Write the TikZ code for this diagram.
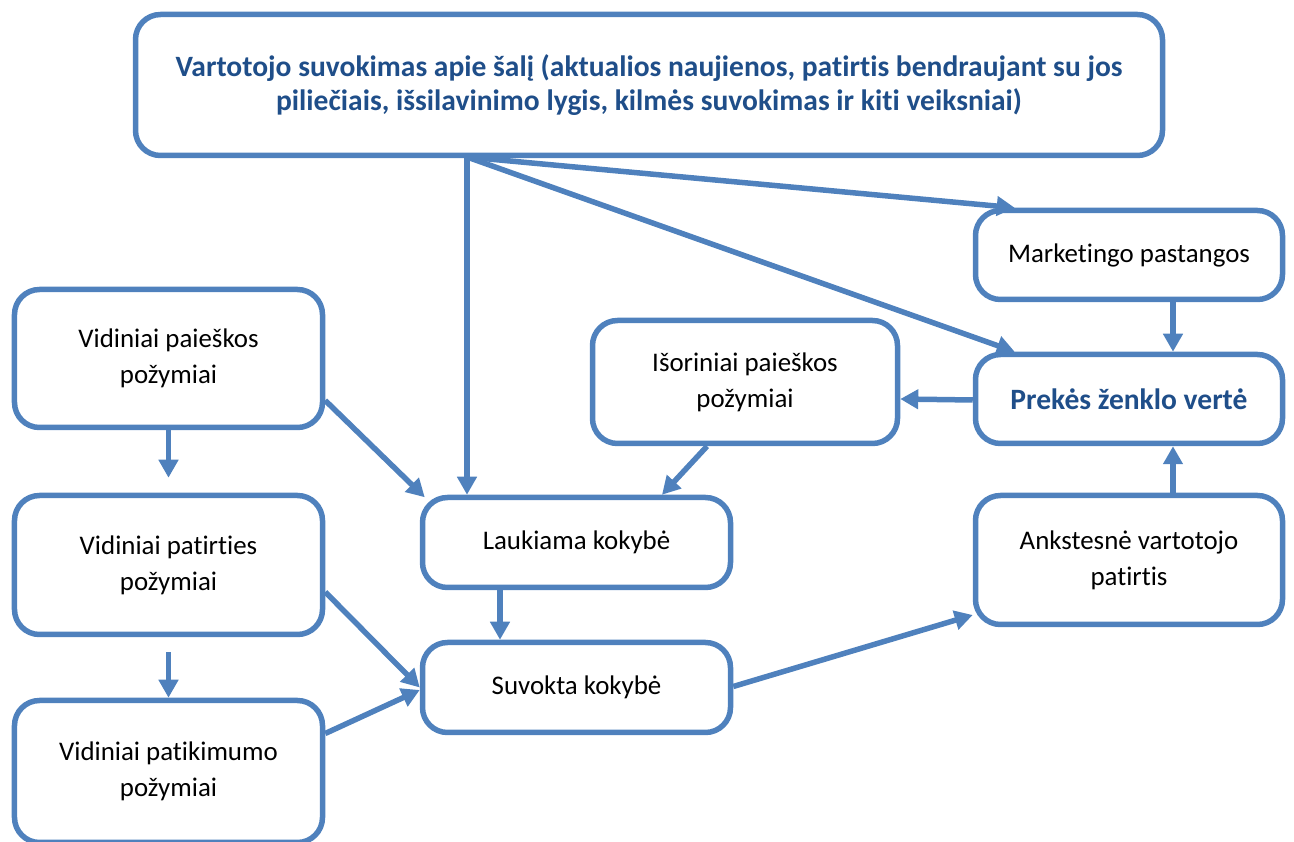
\documentclass[tikz,border=0pt]{standalone}
\usepackage{fontspec}
\setmainfont{Carlito}[Ligatures=CommonOff]
\usetikzlibrary{arrows.meta}
\definecolor{boxblue}{HTML}{4F81BD}
\definecolor{textblue}{HTML}{1F4E89}
\tikzset{
  box/.style={draw=boxblue,line width=0.11cm,rounded corners=0.5cm,align=center,
    font=\fontsize{15.3}{20.5}\selectfont,inner sep=0pt},
  keybox/.style={box,text=textblue,font=\fontsize{16.8}{19.5}\selectfont\bfseries},
  arr/.style={draw=boxblue,line width=0.11cm,-{Triangle[length=0.36cm,width=0.38cm]}}
}
\begin{document}
\begin{tikzpicture}
\useasboundingbox (0,0) rectangle (25.88,-16.84);
% boxes
\node[keybox,minimum width=20.54cm,minimum height=2.82cm] (salis) at (12.98,-1.70)
  {Vartotojo suvokimas apie šalį (aktualios naujienos, patirtis bendraujant su jos\\piliečiais, išsilavinimo lygis, kilmės suvokimas ir kiti veiksniai)};
\node[box,minimum width=6.14cm,minimum height=1.78cm] (mark) at (22.58,-5.10) {Marketingo pastangos};
\node[keybox,minimum width=6.14cm,minimum height=1.78cm] (prek) at (22.58,-7.98) {Prekės ženklo vertė};
\node[box,minimum width=6.10cm,minimum height=2.46cm] (isor) at (14.90,-7.64) {Išoriniai paieškos\\požymiai};
\node[box,minimum width=6.16cm,minimum height=2.76cm] (vpai) at (3.37,-7.17) {Vidiniai paieškos\\požymiai};
\node[box,minimum width=6.16cm,minimum height=2.78cm] (vpat) at (3.37,-11.30) {Vidiniai patirties\\požymiai};
\node[box,minimum width=6.16cm,minimum height=2.84cm] (vpik) at (3.37,-15.43) {Vidiniai patikimumo\\požymiai};
\node[box,minimum width=6.16cm,minimum height=1.80cm] (lauk) at (11.53,-10.85) {Laukiama kokybė};
\node[box,minimum width=6.16cm,minimum height=1.80cm] (suv) at (11.53,-13.75) {Suvokta kokybė};
\node[box,minimum width=6.14cm,minimum height=2.58cm] (ank) at (22.58,-11.20) {Ankstesnė vartotojo\\patirtis};
% connectors
\coordinate (src) at (9.34,-3.14);
\draw[arr] (src) -- (lauk.north -| src);
\draw[arr] (src) -- ([xshift=0.84cm]prek.north west);
\draw[arr] (src) -- ([xshift=0.84cm]mark.north west);
\draw[arr] ([xshift=0.88cm]mark.south) -- ([xshift=0.88cm]prek.north);
\draw[arr] ([xshift=0.88cm]ank.north) -- ([xshift=0.88cm]prek.south);
\draw[arr] ([yshift=-0.02cm]prek.west) -- (isor.east |- prek.west);
\draw[arr] ([xshift=-0.76cm]isor.south) -- ([xshift=1.71cm]lauk.north);
\draw[arr] ([yshift=-0.84cm]vpai.east) -- ([shift={(0.1cm,-0.05cm)}]lauk.north west);
\draw[arr] (vpai.south) -- ([yshift=0.3cm]vpat.north);
\draw[arr] ([yshift=-0.3cm]vpat.south) -- (vpik.north);
\draw[arr] ([yshift=-0.54cm]vpat.east) -- (suv.west);
\draw[arr] ([yshift=0.76cm]vpik.east) -- ([yshift=-0.05cm]suv.west);
\draw[arr] ([xshift=-1.53cm]lauk.south) -- ([xshift=-1.53cm]suv.north);
\draw[arr] ([yshift=0.02cm]suv.east) -- ([yshift=-1.1cm]ank.west);
\end{tikzpicture}
\end{document}
